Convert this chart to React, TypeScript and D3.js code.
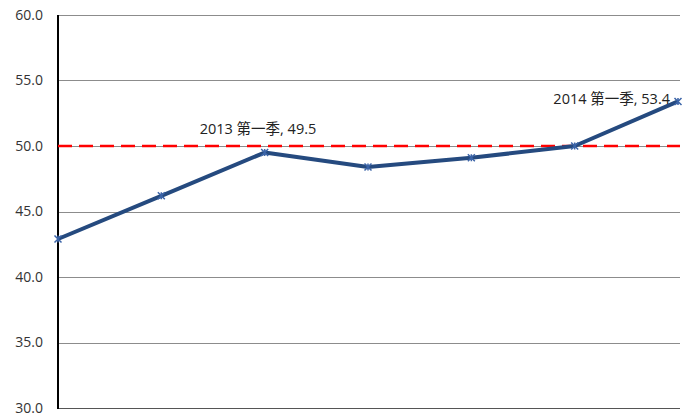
import React, { useEffect, useRef } from 'react';
import * as d3 from 'd3';

const quarters = ['2012 第三季', '2012 第四季', '2013 第一季', '2013 第二季', '2013 第三季', '2013 第四季', '2014 第一季'];
const values = [42.9, 46.2, 49.5, 48.4, 49.1, 50.0, 53.4];
const yTicks = [30, 35, 40, 45, 50, 55, 60];
const refLine = 50;
const labelled = [2, 6];

export default function App() {
  const ref = useRef<SVGSVGElement>(null);
  const width = 686;
  const height = 417;
  const margin = { top: 15, right: 8, bottom: 9, left: 58 };

  useEffect(() => {
    const svg = d3.select(ref.current);
    svg.selectAll('*').remove();

    const x = d3.scalePoint<string>()
      .domain(quarters)
      .range([margin.left, width - margin.right]);
    const y = d3.scaleLinear()
      .domain([30, 60])
      .range([height - margin.bottom, margin.top]);

    // grid
    svg.append('g')
      .selectAll('line')
      .data(yTicks)
      .join('line')
      .attr('x1', margin.left)
      .attr('x2', width - 6)
      .attr('y1', d => Math.round(y(d)) + 0.5)
      .attr('y2', d => Math.round(y(d)) + 0.5)
      .attr('stroke', d => d === 30 ? '#555' : '#8c8c8c')
      .attr('stroke-width', 1);

    // tick labels
    svg.append('g')
      .selectAll('text')
      .data(yTicks)
      .join('text')
      .attr('x', 43)
      .attr('y', d => y(d))
      .attr('dy', '0.35em')
      .attr('text-anchor', 'end')
      .attr('font-family', 'Open Sans, sans-serif')
      .attr('font-size', 14)
      .attr('fill', '#333')
      .text(d => d.toFixed(1));

    // y axis line
    svg.append('line')
      .attr('x1', margin.left)
      .attr('x2', margin.left)
      .attr('y1', y(60))
      .attr('y2', y(30) + 1)
      .attr('stroke', '#000')
      .attr('stroke-width', 2);

    // reference dashed line
    svg.append('line')
      .attr('x1', margin.left)
      .attr('x2', width - 6)
      .attr('y1', y(refLine))
      .attr('y2', y(refLine))
      .attr('stroke', '#ff0000')
      .attr('stroke-width', 2.5)
      .attr('stroke-dasharray', '14,7');

    // series line
    const line = d3.line<number>()
      .x((_, i) => x(quarters[i]) as number)
      .y(d => y(d));
    svg.append('path')
      .datum(values)
      .attr('d', line)
      .attr('fill', 'none')
      .attr('stroke', '#254a7f')
      .attr('stroke-width', 4)
      .attr('stroke-linejoin', 'round');

    // markers
    const m = svg.append('g');
    values.forEach((v, i) => {
      const cx = x(quarters[i]) as number;
      const cy = y(v);
      const s = 3.5;
      m.append('path')
        .attr('d', `M${cx - s},${cy - s}L${cx + s},${cy + s}M${cx - s},${cy + s}L${cx + s},${cy - s}M${cx},${cy - s}L${cx},${cy + s}`)
        .attr('stroke', '#3b64a8')
        .attr('stroke-width', 1.5);
    });

    // data labels
    svg.append('g')
      .selectAll('text')
      .data(labelled)
      .join('text')
      .attr('x', i => i === 6 ? (x(quarters[i]) as number) - 8 : (x(quarters[i]) as number) - 65)
      .attr('y', i => y(values[i]) - (i === 6 ? -3 : 19))
      .attr('text-anchor', i => i === 6 ? 'end' : 'start')
      .attr('font-family', 'Open Sans, "Noto Sans CJK SC", sans-serif')
      .attr('font-size', 14.5)
      .attr('fill', '#222')
      .text(i => `${quarters[i]}, ${values[i].toFixed(1)}`);
  }, []);

  return (
    <svg ref={ref} width={width} height={height}
      style={{ position: 'absolute', left: 0, top: 0, background: '#fff' }} />
  );
}
